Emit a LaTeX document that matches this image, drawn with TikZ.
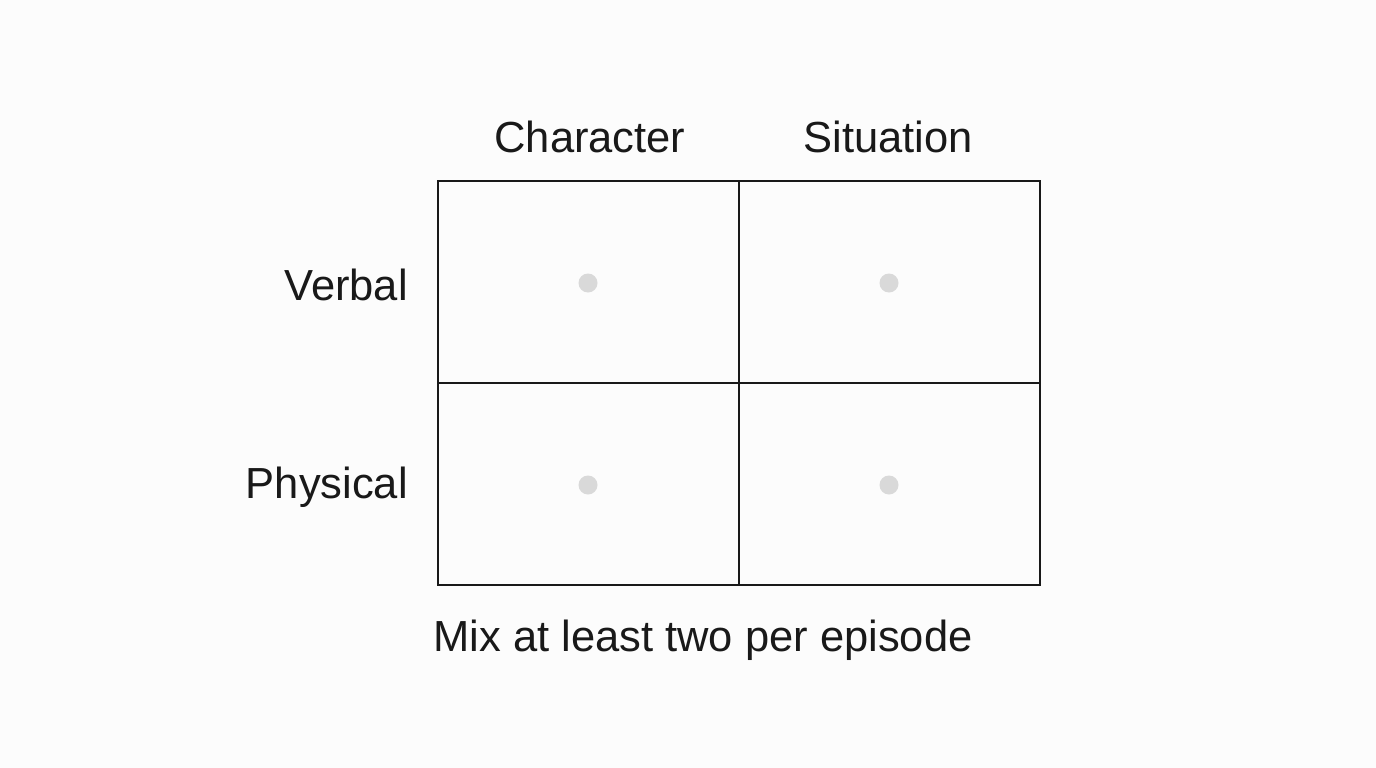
\documentclass[tikz,border=0pt]{standalone}
\usepackage{fontspec}
\setmainfont{Liberation Sans}
\begin{document}
\begin{tikzpicture}[x=1pt,y=-1pt,
  cell/.style={draw=black!90,line width=2pt,minimum width=301pt,minimum height=202pt,inner sep=0pt},
  dot/.style={circle,fill=black!15,minimum size=19pt,inner sep=0pt},
  lab/.style={font=\fontsize{43.5}{48}\selectfont,text=black!90,inner sep=0pt}]
\fill[black!1] (0,0) rectangle (1376,768);
\useasboundingbox (0,0) rectangle (1376,768);
\node[cell] (c11) at (588,282) {};
\node[cell] (c12) at (889,282) {};
\node[cell] (c21) at (588,484) {};
\node[cell] (c22) at (889,484) {};
\node[dot] (d11) at (588,283) {};
\node[dot] (d12) at (889,283) {};
\node[dot] (d21) at (588,485) {};
\node[dot] (d22) at (889,485) {};
\node[lab] (h1) at (590,137) {Character};
\node[lab] (h2) at (888,137) {Situation};
\node[lab,anchor=east] (r1) at (408,285) {Verbal};
\node[lab,anchor=east] (r2) at (408,487) {Physical};
\node[lab] (cap) at (703,640) {Mix at least two per episode};
\end{tikzpicture}
\end{document}
